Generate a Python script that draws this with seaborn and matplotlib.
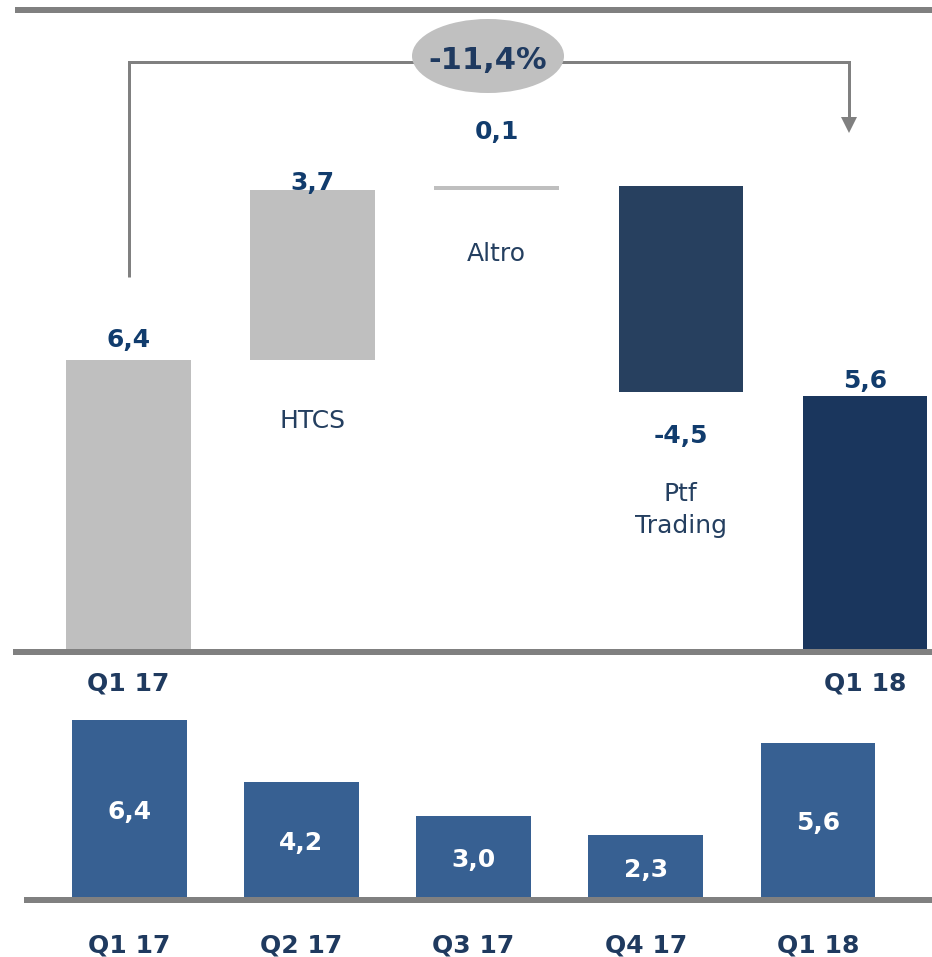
import matplotlib
matplotlib.use("Agg")
import matplotlib.pyplot as plt
from matplotlib.patches import Ellipse, Polygon
import seaborn as sns

# data
steps = ["Q1 17", "HTCS", "Altro", "Ptf\nTrading", "Q1 18"]
step_values = [6.4, 3.7, 0.1, -4.5, 5.6]
is_total = [True, False, False, False, True]
change_label = "-11,4%"

quarters = ["Q1 17", "Q2 17", "Q3 17", "Q4 17", "Q1 18"]
quarter_values = [6.4, 4.2, 3.0, 2.3, 5.6]


def fmt(v):
    return f"{v:.1f}".replace(".", ",")


# waterfall bases
bottoms = []
run = 0
for v, tot in zip(step_values, is_total):
    if tot:
        bottoms.append(0)
        run = v
    else:
        bottoms.append(run)
        run += v

# style
gray_bar = "#BFBFBF"
step_colors = [gray_bar, gray_bar, gray_bar, "#27405F", "#1A365D"]
bar_blue = "#376092"
line_gray = "#808080"
val_color = "#113C6D"
name_color = "#243F60"
q_color = "#1F3A5F"
PX = 0.72  # points per pixel at dpi 100

sns.set_style("white")
plt.rcParams["font.family"] = ["DejaVu Sans"]

W, H = 932, 957
fig = plt.figure(figsize=(W / 100, H / 100), dpi=100)


def frac(x0, y0, x1, y1):
    return [x0 / W, 1 - y1 / H, (x1 - x0) / W, (y1 - y0) / H]


# ---- waterfall ----
ax = fig.add_axes(frac(0, 0, W, 700))
sns.barplot(x=steps, y=step_values, bottom=bottoms, width=0.676, color=gray_bar,
            saturation=1, errorbar=None, linewidth=0, ax=ax)
for patch, c in zip(ax.patches, step_colors):
    patch.set_facecolor(c)
    patch.set_edgecolor("none")

top_scale, top_spacing = 45.7, 184.1
ax.set_ylim(-(700 - 652) / top_scale, 652 / top_scale)
ax.set_xlim(-128.5 / top_spacing, (W - 128.5) / top_spacing)
ax.axis("off")
ax.axhline(0, xmin=13 / W, xmax=1, color=line_gray, lw=6 * PX, zorder=3,
           clip_on=False, solid_capstyle="butt")

# baseline offsets in pixels (multi-line labels anchor on their last line)
value_dy = [13, 0, 47, -51, 8]
name_dy = [-38, -68, -71, -141, -38]
for i, (v, b, tot) in enumerate(zip(step_values, bottoms, is_total)):
    low, high = min(b, b + v), max(b, b + v)
    anchor = high if v >= 0 else low
    ax.annotate(fmt(v), (i, anchor), xytext=(0, value_dy[i]), textcoords="offset pixels",
                ha="center", va="baseline", fontsize=18, fontweight="bold", color=val_color)
    ax.annotate(steps[i], (i, low), xytext=(0, name_dy[i]), textcoords="offset pixels",
                ha="center", va="baseline", fontsize=18,
                fontweight="bold" if tot else "normal",
                color=q_color if tot else name_color, linespacing=1.38)

# ---- quarterly bars ----
ax2 = fig.add_axes(frac(0, 700, W, H))
sns.barplot(x=quarters, y=quarter_values, color=bar_blue, width=0.667,
            saturation=1, errorbar=None, linewidth=0, ax=ax2)
bot_scale, bot_spacing = 28.1, 172.2
ax2.set_ylim(-(H - 900) / bot_scale, (900 - 700) / bot_scale)
ax2.set_xlim(-129.2 / bot_spacing, (W - 129.2) / bot_spacing)
ax2.axis("off")
ax2.axhline(0, xmin=24 / W, xmax=1, color=line_gray, lw=6 * PX, zorder=3,
            clip_on=False, solid_capstyle="butt")

for i, v in enumerate(quarter_values):
    ax2.annotate(fmt(v), (i, v / 2), xytext=(0, -9), textcoords="offset pixels",
                 ha="center", va="baseline", fontsize=18, fontweight="bold", color="white")
    ax2.annotate(quarters[i], (i, 0), xytext=(0, -52), textcoords="offset pixels",
                 ha="center", va="baseline", fontsize=18, fontweight="bold", color=q_color)

# ---- decorations (pixel overlay) ----
ov = fig.add_axes([0, 0, 1, 1])
ov.set_xlim(0, W)
ov.set_ylim(H, 0)
ov.axis("off")
ov.patch.set_alpha(0)

ov.plot([15, W], [10, 10], color=line_gray, lw=6 * PX, solid_capstyle="butt")
ov.plot([129, 129, 849, 849], [277, 62, 62, 118], color=line_gray, lw=3 * PX,
        solid_joinstyle="miter", solid_capstyle="butt")
ov.add_patch(Polygon([(841, 117), (857, 117), (849, 133)], closed=True,
                     facecolor=line_gray, edgecolor="none"))
ov.add_patch(Ellipse((488, 56), 152, 74, facecolor="#C0C0C0", edgecolor="none", zorder=4))
ov.text(488, 69, change_label, ha="center", va="baseline", fontsize=22,
        fontweight="bold", color="#1F3A60", zorder=5)

fig.savefig("out.png", dpi=100)
